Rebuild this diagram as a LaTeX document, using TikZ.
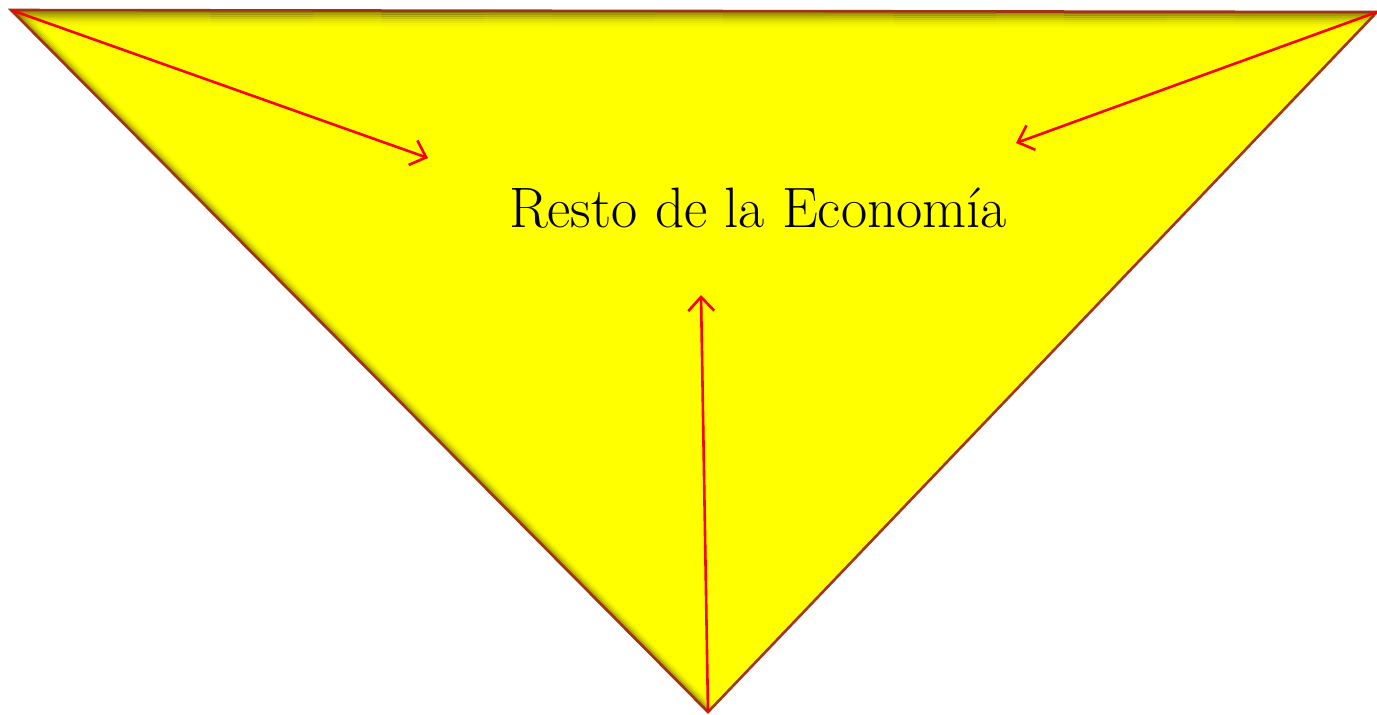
\documentclass[tikz,border=0pt]{standalone}
\usetikzlibrary{arrows.meta,calc}
\definecolor{bord}{RGB}{160,52,20}
\definecolor{arr}{RGB}{255,0,0}
\definecolor{fillc}{RGB}{255,255,0}
\definecolor{shad}{RGB}{110,100,0}
\begin{document}
\begin{tikzpicture}[x=0.5pt,y=-0.5pt,
  arrowline/.style={draw=arr,line width=1.3pt,-{Straight Barb[length=7pt,width=13pt,line width=1.3pt]}},
  label/.style={font=\fontsize{28.5}{34}\selectfont,inner sep=0pt}]
\useasboundingbox (0,0) rectangle (1377,714);
\coordinate (A) at (11,10);
\coordinate (B) at (1377,12);
\coordinate (C) at (708,712);
\fill[fillc] (A) -- (B) -- (C) -- cycle;
\begin{scope}
  \clip (A) -- (B) -- (C) -- cycle;
  \foreach \d/\o in {1/0.75,3/0.6,5/0.45,7/0.32,9/0.2,11/0.12,13/0.06,15/0.03}{
    \draw[shad,opacity=\o,line width=1.2pt] ($(A)+(0,\d)$) -- ($(B)+(0,\d)$);
  }
  \foreach \d/\o in {1/0.5,3/0.35,5/0.22,7/0.13,9/0.07,11/0.03}{
    \draw[shad,opacity=\o,line width=1.2pt] ($(A)+(\d,0)$) -- ($(C)+(\d,0)$);
  }
\end{scope}
\draw[bord,line width=1.3pt,line join=miter] (A) -- (B) -- (C) -- cycle;
\node[label] (t) at (758,208) {Resto de la Economía};
\coordinate (p1) at (428,158);
\coordinate (p2) at (1016,143);
\coordinate (p3) at (701,295);
\draw[arrowline] (A) -- (p1);
\draw[arrowline] (B) -- (p2);
\draw[arrowline] (C) -- (p3);
\end{tikzpicture}
\end{document}
